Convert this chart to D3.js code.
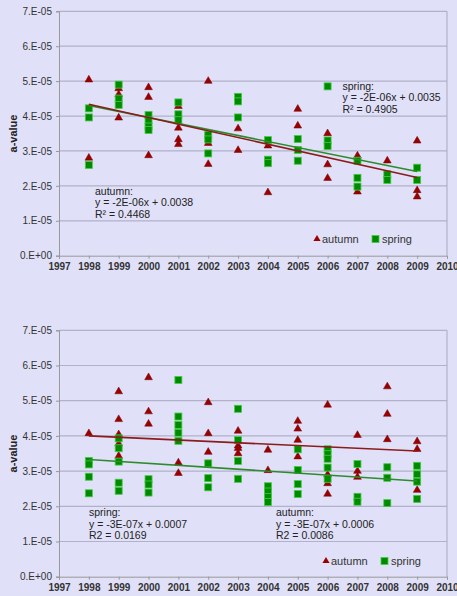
<!DOCTYPE html>
<html>
<head>
<meta charset="utf-8">
<script src="https://cdn.jsdelivr.net/npm/d3@7"></script>
<style>
body { margin: 0; background: #e0e0f8; }
svg { display: block; font-family: "Liberation Sans", Arial, sans-serif; }
</style>
</head>
<body>
<div id="chart"></div>
<script>
// values are in units of 1E-05 (a-value)
const yearTicks = [1997, 1998, 1999, 2000, 2001, 2002, 2003, 2004, 2005, 2006, 2007, 2008, 2009, 2010]
const valueTicks = [0, 1, 2, 3, 4, 5, 6, 7]
const valueTickLabels = ["0.E+00", "1.E-05", "2.E-05", "3.E-05", "4.E-05", "5.E-05", "6.E-05", "7.E-05"]

// top chart
const autumnTop = [
    [1998, [5.04, 2.80]],
    [1999, [4.79, 4.62, 3.95]],
    [2000, [4.82, 4.54, 2.87]],
    [2001, [4.28, 3.66, 3.33, 3.19]],
    [2002, [5.00, 3.22, 2.62]],
    [2003, [3.64, 3.02]],
    [2004, [3.15, 1.81]],
    [2005, [4.20, 3.72]],
    [2006, [3.50, 2.61, 2.22]],
    [2007, [2.86, 1.83]],
    [2008, [2.72]],
    [2009, [3.29, 1.87, 1.69]],
]
const springTop = [
    [1998, [4.22, 3.96, 2.60]],
    [1999, [4.90, 4.50, 4.32]],
    [2000, [4.03, 3.87, 3.70, 3.60]],
    [2001, [4.39, 4.05, 3.88]],
    [2002, [3.46, 3.33, 2.93]],
    [2003, [4.55, 4.42, 3.96]],
    [2004, [3.31, 2.75, 2.65]],
    [2005, [3.34, 3.03, 2.72]],
    [2006, [4.85, 3.30, 3.14]],
    [2007, [2.72, 2.23, 1.98]],
    [2008, [2.33, 2.17]],
    [2009, [2.52, 2.17]],
]
const autumnTrendTop = [[1998, 4.34], [2009, 2.24]]
const springTrendTop = [[1998, 4.30], [2009, 2.41]]

// bottom chart
const autumnBottom = [
    [1998, [4.07]],
    [1999, [5.26, 4.47, 4.04, 3.78, 3.43]],
    [2000, [5.66, 4.69, 4.34]],
    [2001, [3.24, 2.94]],
    [2002, [4.95, 4.07, 3.54]],
    [2003, [4.14, 3.72, 3.65, 3.50]],
    [2004, [3.60, 3.02]],
    [2005, [4.42, 4.20, 3.88, 3.41]],
    [2006, [4.88, 2.90, 2.65, 2.35]],
    [2007, [4.02, 3.00, 2.83]],
    [2008, [5.40, 4.62, 3.90]],
    [2009, [3.84, 3.62, 2.46]],
]
const springBottom = [
    [1998, [3.29, 3.19, 2.84, 2.37]],
    [1999, [3.93, 3.65, 3.27, 2.67, 2.44]],
    [2000, [2.77, 2.62, 2.39]],
    [2001, [5.59, 4.55, 4.31, 4.09, 3.86]],
    [2002, [3.22, 2.80, 2.54]],
    [2003, [4.77, 3.88, 3.29, 2.78]],
    [2004, [2.57, 2.42, 2.26, 2.12]],
    [2005, [3.62, 3.03, 2.63, 2.35]],
    [2006, [3.62, 3.48, 3.35, 3.10, 2.78]],
    [2007, [3.20, 2.27, 2.13]],
    [2008, [3.11, 2.81, 2.09]],
    [2009, [3.15, 2.91, 2.70, 2.21]],
]
const autumnTrendBottom = [[1998, 4.00], [2009, 3.57]]
const springTrendBottom = [[1998, 3.33], [2009, 2.72]]

const seriesNames = ["autumn", "spring"]

// =================================================================================================
// Helper
// =================================================================================================
function flatten(rows) {
    let pts = []
    rows.forEach(([year, vals]) => vals.forEach((v) => pts.push({ year: year, value: v })))
    return pts
}

const width = 457, height = 596
const autumnColor = "#990000"
const springColor = "#008a00"

let svg = d3.select("#chart")
    .append("svg")
    .attr("width", width)
    .attr("height", height)

svg.append("rect")
    .attr("width", width)
    .attr("height", height)
    .attr("fill", "#e0e0f8")

let x = d3.scaleLinear().domain([1997, 2010]).range([59, 447])

function drawPanel(cfg) {
    let y = d3.scaleLinear().domain([0, 7]).range([cfg.bottom, cfg.top])
    let g = svg.append("g")

    // grid lines
    g.append("g")
        .selectAll("line")
        .data(valueTicks.slice(1))
        .enter()
        .append("line")
            .attr("x1", x(1997))
            .attr("x2", x(2010))
            .attr("y1", (d) => y(d))
            .attr("y2", (d) => y(d))
            .attr("stroke", "#b1b1c9")
            .attr("stroke-width", 1.2)

    // right border
    g.append("line")
        .attr("x1", x(2010)).attr("x2", x(2010))
        .attr("y1", y(7)).attr("y2", y(0))
        .attr("stroke", "#b1b1c9")
        .attr("stroke-width", 1.2)

    // y axis
    let yAxis = g.append("g")
        .attr("transform", `translate(${x(1997)},0)`)
        .call(d3.axisLeft(y).tickValues(valueTicks).tickSize(3).tickPadding(4)
            .tickFormat((d, i) => valueTickLabels[i]))
    yAxis.select(".domain").attr("stroke", "#999")
    yAxis.selectAll(".tick line").attr("stroke", "#999")
    yAxis.selectAll("text")
        .attr("font-size", 10)
        .attr("fill", "#333")
        .attr("font-family", "Liberation Sans, Arial, sans-serif")

    // x axis
    let xAxis = g.append("g")
        .attr("transform", `translate(0,${y(0)})`)
        .call(d3.axisBottom(x).tickValues(yearTicks).tickSize(3).tickPadding(4)
            .tickFormat(d3.format("d")))
    xAxis.select(".domain").attr("stroke", "#999")
    xAxis.selectAll(".tick line").attr("stroke", "#999")
    xAxis.selectAll("text")
        .attr("font-size", 10)
        .attr("font-weight", "bold")
        .attr("fill", "#333")
        .attr("font-family", "Liberation Sans, Arial, sans-serif")

    // axis title
    g.append("text")
        .attr("transform", `translate(17,${(cfg.top + cfg.bottom) / 2}) rotate(-90)`)
        .attr("text-anchor", "middle")
        .attr("font-size", 11)
        .attr("font-weight", "bold")
        .attr("fill", "#222")
        .text("a-value")

    let line = d3.line().x((d) => x(d[0])).y((d) => y(d[1]))

    // triangles (autumn)
    g.append("g")
        .selectAll("path")
        .data(flatten(cfg.autumn))
        .enter()
        .append("path")
            .attr("d", d3.symbol(d3.symbolTriangle, 26))
            .attr("transform", (d) => `translate(${x(d.year)},${y(d.value)})`)
            .attr("fill", autumnColor)
            .attr("stroke", "#7a0000")
            .attr("stroke-width", 0.5)

    // squares (spring)
    g.append("g")
        .selectAll("rect")
        .data(flatten(cfg.spring))
        .enter()
        .append("rect")
            .attr("x", (d) => x(d.year) - 3.5)
            .attr("y", (d) => y(d.value) - 3.5)
            .attr("width", 7)
            .attr("height", 7)
            .attr("fill", springColor)
            .attr("stroke", "#44cc44")
            .attr("stroke-width", 0.8)

    // trend lines
    g.append("path")
        .datum(cfg.springTrend)
        .attr("d", line)
        .attr("fill", "none")
        .attr("stroke", "#2c8c2c")
        .attr("stroke-width", 1.6)
    g.append("path")
        .datum(cfg.autumnTrend)
        .attr("d", line)
        .attr("fill", "none")
        .attr("stroke", "#8c1c1c")
        .attr("stroke-width", 1.6)

    // equation labels
    cfg.labels.forEach((lab) => {
        let t = g.append("text")
            .attr("x", lab.x)
            .attr("y", lab.y)
            .attr("font-size", 10.5)
            .attr("fill", "#222")
        lab.lines.forEach((s, i) => {
            t.append("tspan").attr("x", lab.x).attr("dy", i === 0 ? 0 : 11.6).text(s)
        })
    })

    // legend
    let lg = g.append("g").attr("transform", `translate(${cfg.legendX},${cfg.legendY})`)
    lg.append("path")
        .attr("d", d3.symbol(d3.symbolTriangle, 22))
        .attr("transform", "translate(0,0)")
        .attr("fill", autumnColor)
    lg.append("text").attr("x", 5).attr("y", 4).attr("font-size", 11).attr("fill", "#333").text(seriesNames[0])
    lg.append("rect")
        .attr("x", 55).attr("y", -3.5).attr("width", 7).attr("height", 7)
        .attr("fill", springColor).attr("stroke", "#44cc44").attr("stroke-width", 0.8)
    lg.append("text").attr("x", 65).attr("y", 4).attr("font-size", 11).attr("fill", "#333").text(seriesNames[1])
}

drawPanel({
    top: 11.3, bottom: 255.7,
    autumn: autumnTop, spring: springTop,
    autumnTrend: autumnTrendTop, springTrend: springTrendTop,
    legendX: 317, legendY: 239,
    labels: [
        { x: 342.5, y: 89.5, lines: ["spring:", "y = -2E-06x + 0.0035", "R\u00b2 = 0.4905"] },
        { x: 95, y: 194.5, lines: ["autumn:", "y = -2E-06x + 0.0038", "R\u00b2 = 0.4468"] },
    ],
})

drawPanel({
    top: 330.3, bottom: 576.7,
    autumn: autumnBottom, spring: springBottom,
    autumnTrend: autumnTrendBottom, springTrend: springTrendBottom,
    legendX: 326, legendY: 561,
    labels: [
        { x: 89, y: 516, lines: ["spring:", "y = -3E-07x + 0.0007", "R2 = 0.0169"] },
        { x: 276, y: 516, lines: ["autumn:", "y = -3E-07x + 0.0006", "R2 = 0.0086"] },
    ],
})
</script>
</body>
</html>
